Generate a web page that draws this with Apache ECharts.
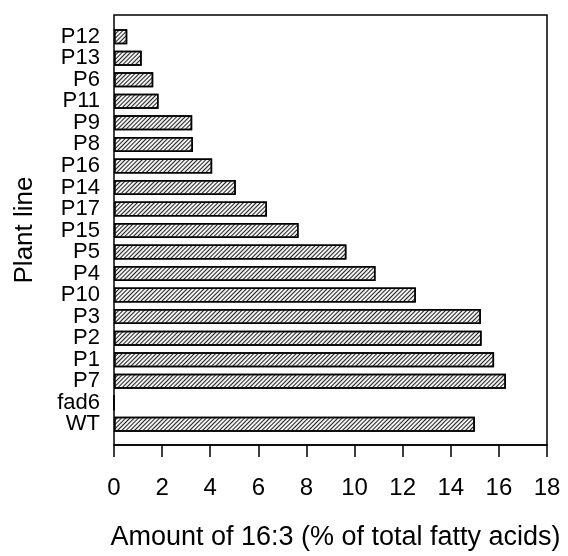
<!DOCTYPE html>
<html lang="en">
<head>
  <meta charset="UTF-8">
  <title>16:3 by plant line</title>
  <script src="https://cdn.jsdelivr.net/npm/echarts@6/dist/echarts.min.js"></script>
  <style>
    html, body { margin: 0; padding: 0; background: #fff; }
    #chart { width: 568px; height: 556px; }
  </style>
</head>
<body>
  <div id="chart"></div>
  <script>
    // plant lines, top to bottom
    var lines = ['P12', 'P13', 'P6', 'P11', 'P9', 'P8', 'P16', 'P14', 'P17', 'P15',
      'P5', 'P4', 'P10', 'P3', 'P2', 'P1', 'P7', 'fad6', 'WT']
    // amount of 16:3, % of total fatty acids
    var amount = [0.55, 1.15, 1.63, 1.85, 3.25, 3.28, 4.08, 5.06, 6.36, 7.67,
      9.66, 10.87, 12.55, 15.25, 15.28, 15.8, 16.29, 0, 15.0]
    var xMin = 0, xMax = 18, xStep = 2

    var font = 'Liberation Sans, Arial, sans-serif'
    var chart = echarts.init(document.getElementById('chart'))

    var option = {
      animation: false,
      backgroundColor: '#fff',
      textStyle: { fontFamily: font, color: '#000' },
      grid: [
        // bars
        { left: 114, right: 21, top: 26, bottom: 121 },
        // frame + x axis
        { left: 114, right: 21, top: 15, bottom: 110, show: true, borderColor: '#000', borderWidth: 1.5 }
      ],
      xAxis: [
        { gridIndex: 0, type: 'value', min: xMin, max: xMax, show: false },
        {
          gridIndex: 1, type: 'value', min: xMin, max: xMax, interval: xStep,
          name: 'Amount of 16:3 (% of total fatty acids)',
          nameLocation: 'middle', nameGap: 79,
          nameTextStyle: { fontSize: 27, color: '#000', fontFamily: font, padding: [0, 0, 0, 10] },
          axisLine: { lineStyle: { color: '#000', width: 1.5 } },
          axisTick: { length: 12, lineStyle: { color: '#000', width: 1.5 } },
          axisLabel: { fontSize: 24, color: '#000', margin: 31, fontFamily: font },
          splitLine: { show: false }
        }
      ],
      yAxis: [
        {
          gridIndex: 0, type: 'category', data: lines, inverse: true,
          axisLine: { show: false }, axisTick: { show: false },
          axisLabel: { fontSize: 22, color: '#000', margin: 14, interval: 0, fontFamily: font }
        },
        {
          gridIndex: 1, type: 'value', min: 0, max: 1,
          name: 'Plant line', nameLocation: 'middle', nameGap: 76,
          nameTextStyle: { fontSize: 26, color: '#000', fontFamily: font },
          axisLine: { show: false }, axisTick: { show: false },
          axisLabel: { show: false }, splitLine: { show: false }
        }
      ],
      series: [
        {
          type: 'bar',
          xAxisIndex: 0, yAxisIndex: 0,
          data: amount,
          barWidth: 15,
          itemStyle: {
            color: '#f2f2f2',
            borderColor: '#000',
            borderWidth: 1.5,
            decal: {
              symbol: 'rect',
              symbolSize: 1,
              color: '#222',
              dashArrayX: [1, 0],
              dashArrayY: [1, 2],
              rotation: -Math.PI / 4
            }
          }
        }
      ]
    }
    chart.setOption(option)
  </script>
</body>
</html>
